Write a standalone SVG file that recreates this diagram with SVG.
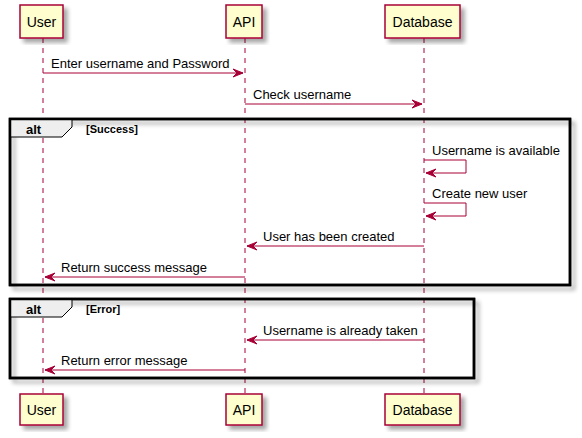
<svg xmlns="http://www.w3.org/2000/svg" width="582" height="438" viewBox="0 0 582 438">
<style>
.p{fill:#FEFECE;stroke:#A80036;stroke-width:1.5}
.pt{font-family:"Liberation Sans",Arial,sans-serif;font-size:14px;fill:#000;text-anchor:middle}
.ll{stroke:#A80036;stroke-width:1;stroke-dasharray:5,5;fill:none}
.m{stroke:#A80036;stroke-width:1;fill:none}
.ah{fill:#A80036;stroke:#A80036;stroke-width:1}
.mt{font-family:"Liberation Sans",Arial,sans-serif;font-size:13px;fill:#000}
.fr{fill:none;stroke:#000;stroke-width:2.5}
.tab{fill:#EEEEEE;stroke:#000;stroke-width:1}
.al{font-family:"Liberation Sans",Arial,sans-serif;font-size:13px;font-weight:bold;fill:#000}
.gd{font-family:"Liberation Sans",Arial,sans-serif;font-size:11px;font-weight:bold;fill:#000}
</style>
<defs>
<filter id="sh" x="-10%" y="-10%" width="130%" height="130%">
<feGaussianBlur in="SourceAlpha" stdDeviation="2" result="b"/>
<feOffset dx="4" dy="4" in="b" result="o"/>
<feComponentTransfer in="o" result="c"><feFuncA type="linear" slope="0.35"/></feComponentTransfer>
<feMerge><feMergeNode in="c"/><feMergeNode in="SourceGraphic"/></feMerge>
</filter>
</defs>
<rect width="582" height="438" fill="#FFFFFF"/>
<g id="lifelines">
<line class="ll" x1="43" y1="38" x2="43" y2="394"/>
<line class="ll" x1="245" y1="38" x2="245" y2="394"/>
<line class="ll" x1="424" y1="38" x2="424" y2="394"/>
</g>
<g id="frame-success">
<rect class="fr" x="10" y="119" width="560" height="166" filter="url(#sh)"/>
<path class="tab" d="M10,119 L72,119 L72,127 L62,137 L10,137 Z"/>
<rect class="fr" x="10" y="119" width="560" height="166"/>
<text class="al" x="26" y="134">alt</text>
<text class="gd" x="86" y="133">[Success]</text>
</g>
<g id="frame-error">
<rect class="fr" x="10" y="299" width="464" height="79" filter="url(#sh)"/>
<path class="tab" d="M10,299 L72,299 L72,307 L62,317 L10,317 Z"/>
<rect class="fr" x="10" y="299" width="464" height="79"/>
<text class="al" x="26" y="314">alt</text>
<text class="gd" x="86" y="313">[Error]</text>
</g>
<g id="participant-user-top">
<rect class="p" x="20" y="5" width="43" height="33" filter="url(#sh)"/>
<text class="pt" x="41.5" y="27">User</text>
</g>
<g id="participant-api-top">
<rect class="p" x="226" y="5" width="36" height="33" filter="url(#sh)"/>
<text class="pt" x="244" y="27">API</text>
</g>
<g id="participant-db-top">
<rect class="p" x="385" y="5" width="75" height="33" filter="url(#sh)"/>
<text class="pt" x="422.5" y="27">Database</text>
</g>
<g id="participant-user-bottom">
<rect class="p" x="20" y="394" width="43" height="31" filter="url(#sh)"/>
<text class="pt" x="41.5" y="415">User</text>
</g>
<g id="participant-api-bottom">
<rect class="p" x="226" y="394" width="36" height="31" filter="url(#sh)"/>
<text class="pt" x="244" y="415">API</text>
</g>
<g id="participant-db-bottom">
<rect class="p" x="385" y="394" width="75" height="31" filter="url(#sh)"/>
<text class="pt" x="422.5" y="415">Database</text>
</g>
<g id="connectors">
<line class="m" x1="43" y1="73" x2="243" y2="73"/>
<polygon class="ah" points="233,69 243,73 233,77 237,73"/>
<text class="mt" x="51" y="68">Enter username and Password</text>

<line class="m" x1="245" y1="104" x2="422" y2="104"/>
<polygon class="ah" points="412,100 422,104 412,108 416,104"/>
<text class="mt" x="253" y="99">Check username</text>

<polyline class="m" points="424,160 466,160 466,173 426,173"/>
<polygon class="ah" points="436,169 426,173 436,177 432,173"/>
<text class="mt" x="432" y="155">Username is available</text>

<polyline class="m" points="424,203 466,203 466,216 426,216"/>
<polygon class="ah" points="436,212 426,216 436,220 432,216"/>
<text class="mt" x="432" y="198">Create new user</text>

<line class="m" x1="247" y1="246" x2="424" y2="246"/>
<polygon class="ah" points="257,242 247,246 257,250 253,246"/>
<text class="mt" x="263" y="241">User has been created</text>

<line class="m" x1="45" y1="277" x2="245" y2="277"/>
<polygon class="ah" points="55,273 45,277 55,281 51,277"/>
<text class="mt" x="61" y="272">Return success message</text>

<line class="m" x1="247" y1="340" x2="424" y2="340"/>
<polygon class="ah" points="257,336 247,340 257,344 253,340"/>
<text class="mt" x="263" y="335">Username is already taken</text>

<line class="m" x1="45" y1="370" x2="245" y2="370"/>
<polygon class="ah" points="55,366 45,370 55,374 51,370"/>
<text class="mt" x="61" y="365">Return error message</text>
</g>
</svg>
